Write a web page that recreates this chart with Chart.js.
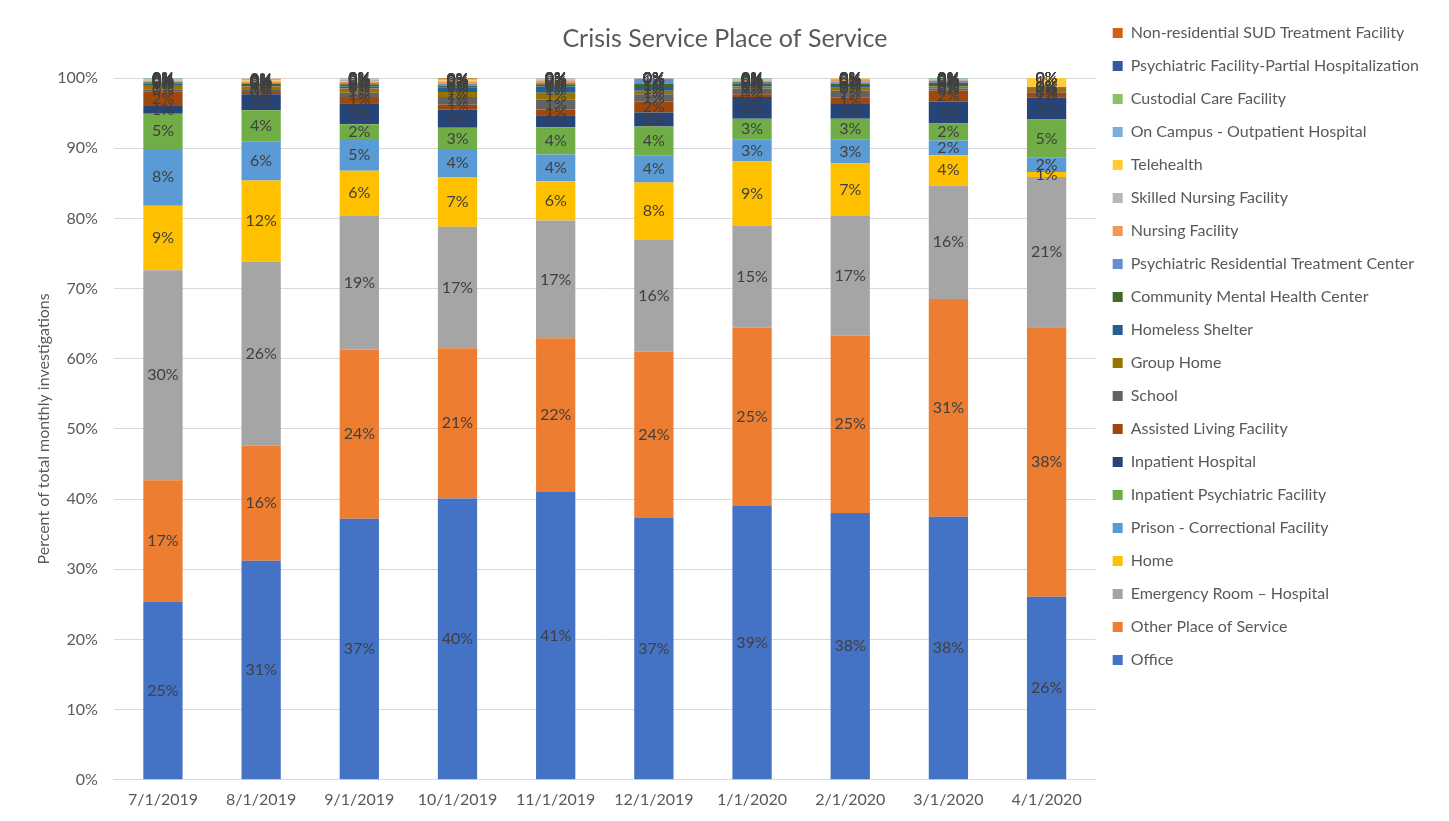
<!DOCTYPE html>
<html>
<head>
<meta charset="utf-8">
<script src="https://cdn.jsdelivr.net/npm/chart.js@4"></script>
<style>
  body { margin: 0; background: #fff; }
  #wrap { width: 1449px; height: 821px; }
</style>
</head>
<body>
<div id="wrap"><canvas id="mycanvas"></canvas></div>
<script>
// months on the x axis
var months = ['7/1/2019', '8/1/2019', '9/1/2019', '10/1/2019', '11/1/2019', '12/1/2019', '1/1/2020', '2/1/2020', '3/1/2020', '4/1/2020'];

// percent of monthly investigations, one array per place of service (bottom of stack first)
var office          = [25.4, 31.2, 37.2, 40.1, 41.0, 37.3, 39.0, 38.0, 37.5, 26.1];
var otherPlace      = [17.3, 16.4, 24.1, 21.4, 21.9, 23.7, 25.4, 25.3, 31.0, 38.4];
var emergencyRoom   = [29.9, 26.2, 19.1, 17.3, 16.8, 16.0, 14.6, 17.1, 16.2, 21.4];
var home            = [9.2, 11.6, 6.4, 7.1, 5.6, 8.1, 9.1, 7.4, 4.3, 0.7];
var prison          = [8.1, 5.6, 4.5, 4.0, 3.8, 3.9, 3.1, 3.4, 2.1, 2.1];
var inpatientPsych  = [5.0, 4.4, 2.1, 3.0, 3.9, 4.1, 3.0, 3.0, 2.4, 5.4];
var inpatientHosp   = [1.1, 2.3, 3.0, 2.6, 1.7, 2.0, 3.1, 2.1, 3.1, 3.1];
var assistedLiving  = [2.1, 0.3, 0.9, 0.7, 0.8, 1.5, 0.4, 0.9, 1.6, 0.7];
var school          = [0.3, 0.3, 0.6, 1.1, 1.4, 1.1, 0.8, 1.0, 0.3, 0.1];
var groupHome       = [0.6, 0.5, 0.6, 0.7, 1.0, 0.5, 0.3, 0.4, 0.3, 0.6];
var homelessShelter = [0.2, 0.2, 0.3, 0.6, 0.9, 0.5, 0.4, 0.4, 0.2, 0.1];
var communityMHC    = [0.2, 0.2, 0.3, 0.3, 0.3, 0.5, 0.2, 0.2, 0.3, 0.0];
var psychResidential= [0.1, 0.1, 0.2, 0.3, 0.2, 0.7, 0.1, 0.2, 0.3, 0.0];
var nursingFacility = [0.1, 0.2, 0.2, 0.3, 0.3, 0.0, 0.1, 0.3, 0.1, 0.1];
var skilledNursing  = [0.2, 0.1, 0.2, 0.1, 0.2, 0.1, 0.2, 0.2, 0.1, 0.0];
var telehealth      = [0.0, 0.1, 0.2, 0.1, 0.1, 0.0, 0.0, 0.1, 0.0, 1.2];
var onCampus        = [0.1, 0.1, 0.1, 0.1, 0.1, 0.0, 0.1, 0.0, 0.1, 0.0];
var custodialCare   = [0.1, 0.0, 0.0, 0.1, 0.0, 0.0, 0.1, 0.0, 0.1, 0.0];
var psychPartial    = [0.0, 0.0, 0.0, 0.0, 0.0, 0.0, 0.0, 0.0, 0.0, 0.0];
var nonResSUD       = [0.0, 0.1, 0.1, 0.1, 0.0, 0.0, 0.0, 0.0, 0.0, 0.0];

var series = [
    ['Office', office, '#4472C4'],
    ['Other Place of Service', otherPlace, '#ED7D31'],
    ['Emergency Room \u2013 Hospital', emergencyRoom, '#A5A5A5'],
    ['Home', home, '#FFC000'],
    ['Prison - Correctional Facility', prison, '#5B9BD5'],
    ['Inpatient Psychiatric Facility', inpatientPsych, '#70AD47'],
    ['Inpatient Hospital', inpatientHosp, '#264478'],
    ['Assisted Living Facility', assistedLiving, '#9E480E'],
    ['School', school, '#636363'],
    ['Group Home', groupHome, '#997300'],
    ['Homeless Shelter', homelessShelter, '#255E91'],
    ['Community Mental Health Center', communityMHC, '#43682B'],
    ['Psychiatric Residential Treatment Center', psychResidential, '#698ED0'],
    ['Nursing Facility', nursingFacility, '#F1975A'],
    ['Skilled Nursing Facility', skilledNursing, '#B7B7B7'],
    ['Telehealth', telehealth, '#FFCD33'],
    ['On Campus - Outpatient Hospital', onCampus, '#7CAFDD'],
    ['Custodial Care Facility', custodialCare, '#8CC168'],
    ['Psychiatric Facility-Partial Hospitalization', psychPartial, '#335AA1'],
    ['Non-residential SUD Treatment Facility', nonResSUD, '#D26012']
];

var datasets = [];
for (var i in series) {
    datasets.push({
        label: series[i][0],
        data: series[i][1],
        backgroundColor: series[i][2],
        borderWidth: 0,
        categoryPercentage: 1,
        barPercentage: 0.4
    });
}

// percent labels in the middle of every segment
var segmentLabels = {
    id: 'segmentLabels',
    afterDatasetsDraw: function (chart) {
        var ctx = chart.ctx;
        ctx.save();
        ctx.font = '16px Lato';
        ctx.fillStyle = '#404040';
        ctx.textAlign = 'center';
        ctx.textBaseline = 'middle';
        chart.data.datasets.forEach(function (ds, d) {
            var meta = chart.getDatasetMeta(d);
            meta.data.forEach(function (bar, j) {
                var v = ds.data[j];
                ctx.fillText(Math.round(v) + '%', bar.x, (bar.y + bar.base) / 2);
            });
        });
        ctx.restore();
    }
};

var ctx = document.getElementById('mycanvas');
new Chart(ctx, {
    type: 'bar',
    data: { labels: months, datasets: datasets },
    plugins: [segmentLabels],
    options: {
        responsive: true,
        maintainAspectRatio: false,
        animation: false,
        layout: { padding: { left: 21, right: 20, top: 8, bottom: 2 } },
        plugins: {
            tooltip: { enabled: false },
            title: {
                display: true,
                text: 'Crisis Service Place of Service',
                color: '#595959',
                font: { family: 'Lato', size: 25, weight: 'normal' },
                padding: { top: 16, bottom: 24 }
            },
            legend: {
                position: 'right',
                align: 'start',
                reverse: true,
                labels: {
                    boxWidth: 10,
                    boxHeight: 10,
                    padding: 17,
                    color: '#595959',
                    font: { family: 'Lato', size: 16 }
                }
            }
        },
        scales: {
            x: {
                stacked: true,
                grid: { display: false, drawTicks: false },
                border: { color: '#D9D9D9' },
                ticks: { color: '#595959', font: { family: 'Lato', size: 16 }, padding: 10 }
            },
            y: {
                stacked: true,
                min: 0,
                max: 100,
                grid: { color: '#D9D9D9', drawTicks: false },
                border: { display: false },
                ticks: {
                    stepSize: 10,
                    padding: 16,
                    color: '#595959',
                    font: { family: 'Lato', size: 16 },
                    callback: function (v) { return v + '%'; }
                },
                title: {
                    display: true,
                    text: 'Percent of total monthly investigations',
                    color: '#595959',
                    font: { family: 'Lato', size: 16 },
                    padding: { top: 13, bottom: -12 }
                }
            }
        }
    }
});
</script>
</body>
</html>
